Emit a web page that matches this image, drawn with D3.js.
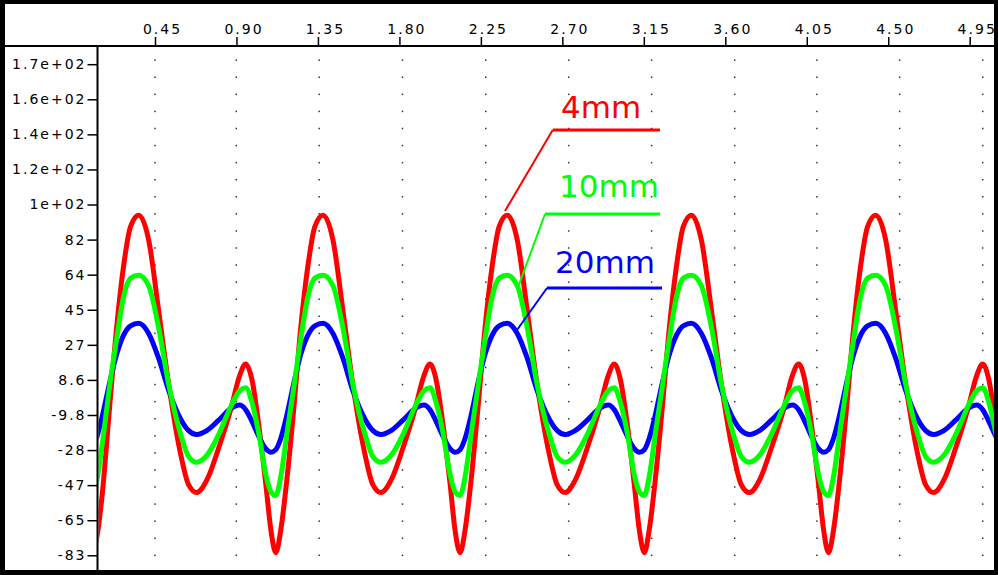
<!DOCTYPE html>
<html>
<head>
<meta charset="utf-8">
<script src="https://cdn.jsdelivr.net/npm/d3@7/dist/d3.min.js"></script>
<style>
  html, body { margin: 0; padding: 0; background: #fff; }
  svg { display: block; }
  .tick text { font-family: "DejaVu Sans", sans-serif; font-size: 14px; letter-spacing: 2px; fill: #000; }
  .legend text { font-family: "DejaVu Sans", sans-serif; font-size: 31px; }
</style>
</head>
<body>
<svg id="chart" width="998" height="575"></svg>
<script>
// Sample times (s) shared by the three traces
const time = [
  0.006, 0.044, 0.072, 0.100, 0.127, 0.160, 0.199, 0.238, 0.276, 0.315,
  0.360, 0.415, 0.470, 0.526, 0.592, 0.636, 0.680, 0.736, 0.802, 0.868, 0.918, 0.951, 0.985, 1.023, 1.062, 1.090, 1.117, 1.145, 1.178, 1.217, 1.255, 1.294, 1.333,
  1.378, 1.433, 1.488, 1.543, 1.610, 1.654, 1.698, 1.754, 1.820, 1.886, 1.936, 1.969, 2.002, 2.041, 2.080, 2.107, 2.135, 2.163, 2.196, 2.234, 2.273, 2.312, 2.351,
  2.395, 2.451, 2.506, 2.561, 2.628, 2.672, 2.716, 2.771, 2.838, 2.904, 2.954, 2.987, 3.020, 3.059, 3.097, 3.125, 3.153, 3.180, 3.213, 3.252, 3.291, 3.330, 3.368,
  3.413, 3.468, 3.524, 3.579, 3.645, 3.689, 3.734, 3.789, 3.855, 3.922, 3.971, 4.005, 4.038, 4.076, 4.115, 4.143, 4.170, 4.198, 4.231, 4.270, 4.309, 4.347, 4.386,
  4.431, 4.486, 4.541, 4.597, 4.663, 4.707, 4.751, 4.807, 4.873, 4.939, 4.989, 5.022, 5.055, 5.094, 5.133
];

// Trace at 4 mm
const mm4 = [
  -15, -46, -70, -82, -75, -50, -6, 36, 68, 89,
  95, 82, 45, 6, -30.5, -46.5, -50.5, -44, -27, -7, 11, 17, 9, -15, -46, -70, -82, -70, -44, -6, 36, 68, 89,
  95, 82, 45, 6, -30.5, -46.5, -50.5, -44, -27, -7, 11, 17, 9, -15, -46, -70, -82, -70, -44, -6, 36, 68, 89,
  95, 82, 45, 6, -30.5, -46.5, -50.5, -44, -27, -7, 11, 17, 9, -15, -46, -70, -82, -70, -44, -6, 36, 68, 89,
  95, 82, 45, 6, -30.5, -46.5, -50.5, -44, -27, -7, 11, 17, 9, -15, -46, -70, -82, -70, -44, -6, 36, 68, 89,
  95, 82, 45, 6, -30.5, -46.5, -50.5, -44, -27, -7, 11, 17, 9, -15, -46
];

// Trace at 10 mm
const mm10 = [
  -19.4, -41, -50, -52, -45, -24, 5, 30, 52, 62,
  63.5, 58, 36, 6, -20, -31.7, -34.6, -31, -20, -5.5, 3, 4.5, -3, -19.4, -41, -50, -52, -42, -20, 5, 30, 52, 62,
  63.5, 58, 36, 6, -20, -31.7, -34.6, -31, -20, -5.5, 3, 4.5, -3, -19.4, -41, -50, -52, -42, -20, 5, 30, 52, 62,
  63.5, 58, 36, 6, -20, -31.7, -34.6, -31, -20, -5.5, 3, 4.5, -3, -19.4, -41, -50, -52, -42, -20, 5, 30, 52, 62,
  63.5, 58, 36, 6, -20, -31.7, -34.6, -31, -20, -5.5, 3, 4.5, -3, -19.4, -41, -50, -52, -42, -20, 5, 30, 52, 62,
  63.5, 58, 36, 6, -20, -31.7, -34.6, -31, -20, -5.5, 3, 4.5, -3, -19.4, -41
];

// Trace at 20 mm
const mm20 = [
  -21, -27.5, -29.4, -28, -22, -10, 7, 22, 32, 37,
  38.3, 33, 20, 3, -12, -18, -20, -18, -12.5, -6.5, -4.6, -7, -13, -21, -27.5, -29.4, -28, -22, -10, 7, 22, 32, 37,
  38.3, 33, 20, 3, -12, -18, -20, -18, -12.5, -6.5, -4.6, -7, -13, -21, -27.5, -29.4, -28, -22, -10, 7, 22, 32, 37,
  38.3, 33, 20, 3, -12, -18, -20, -18, -12.5, -6.5, -4.6, -7, -13, -21, -27.5, -29.4, -28, -22, -10, 7, 22, 32, 37,
  38.3, 33, 20, 3, -12, -18, -20, -18, -12.5, -6.5, -4.6, -7, -13, -21, -27.5, -29.4, -28, -22, -10, 7, 22, 32, 37,
  38.3, 33, 20, 3, -12, -18, -20, -18, -12.5, -6.5, -4.6, -7, -13, -21, -27.5
];

const seriesNames = ["4mm", "10mm", "20mm"];
const seriesColors = ["#ff0000", "#00ff00", "#0000ff"];

// Axis ticks
const xTicks = [0.45, 0.90, 1.35, 1.80, 2.25, 2.70, 3.15, 3.60, 4.05, 4.50, 4.95];
const xTickLabels = ["0.45", "0.90", "1.35", "1.80", "2.25", "2.70", "3.15", "3.60", "4.05", "4.50", "4.95"];
const yTicks = [-83.4, -65.0, -46.6, -28.2, -9.8, 8.6, 27.0, 45.4, 63.8, 82.2, 100.6, 119.0, 137.4, 155.8, 174.2];
const yTickLabels = ["-83", "-65", "-47", "-28", "-9.8", "8.6", "27", "45", "64", "82", "1e+02", "1.2e+02", "1.4e+02", "1.6e+02", "1.7e+02"];

// Dotted grid columns
const gridCols = [0.450, 0.899, 1.357, 1.817, 2.277, 2.735, 3.193, 3.652, 4.106, 4.563, 5.022];

const W = 998, H = 575;
const plot = { left: 97.5, top: 46, right: 994, bottom: 570 };

const svg = d3.select("#chart");

// Window frame
svg.append("rect").attr("x", 0).attr("y", 0).attr("width", W).attr("height", H).attr("fill", "#000");
svg.append("rect").attr("x", 5).attr("y", 4).attr("width", 989).attr("height", 566).attr("fill", "#fff");

const x = d3.scaleLinear().domain([0.45, 4.95]).range([155, 969.7]);
const y = d3.scaleLinear().domain([-83.4, 174.2]).range([555.3, 64.2]);

svg.append("defs").append("clipPath").attr("id", "plotClip")
  .append("rect")
  .attr("x", plot.left + 1).attr("y", plot.top + 1)
  .attr("width", plot.right - plot.left - 1).attr("height", plot.bottom - plot.top - 1);

// Dotted grid
const gridRows = d3.range(30).map(i => -83.4 + i * 8.955);
const dots = [];
gridCols.forEach(c => gridRows.forEach(r => dots.push([c, r])));
svg.append("g").attr("clip-path", "url(#plotClip)")
  .selectAll("rect").data(dots).join("rect")
  .attr("x", d => x(d[0]) - 0.75).attr("y", d => y(d[1]) - 0.75)
  .attr("width", 1.5).attr("height", 1.5).attr("fill", "#333");

// Traces
const traces = [mm4, mm10, mm20];
const line = d3.line().x(d => x(d[0])).y(d => y(d[1])).curve(d3.curveMonotoneX);
const traceG = svg.append("g").attr("clip-path", "url(#plotClip)");
[0, 2, 1].forEach(i => {
  traceG.append("path")
    .datum(time.map((t, j) => [t, traces[i][j]]))
    .attr("d", line)
    .attr("fill", "none")
    .attr("stroke", seriesColors[i])
    .attr("stroke-width", 5)
    .attr("stroke-linejoin", "round");
});

// Top axis
const xAxis = d3.axisTop(x).tickValues(xTicks)
  .tickFormat((d, i) => xTickLabels[i]).tickSize(9).tickPadding(3);
const gx = svg.append("g").attr("transform", `translate(0,${plot.top})`).call(xAxis);
gx.select(".domain").remove();
gx.selectAll(".tick line").attr("stroke", "#000").attr("stroke-width", 1.5);
gx.selectAll(".tick text").attr("dx", 7);

// Left axis
const yAxis = d3.axisLeft(y).tickValues(yTicks)
  .tickFormat((d, i) => yTickLabels[i]).tickSize(10).tickPadding(1);
const gy = svg.append("g").attr("transform", `translate(${plot.left},0)`).call(yAxis);
gy.select(".domain").remove();
gy.selectAll(".tick line").attr("stroke", "#000").attr("stroke-width", 1.5);

// Axis lines
svg.append("line").attr("x1", 5).attr("x2", plot.right).attr("y1", plot.top).attr("y2", plot.top)
  .attr("stroke", "#000").attr("stroke-width", 2);
svg.append("line").attr("x1", plot.left).attr("x2", plot.left).attr("y1", plot.top).attr("y2", plot.bottom)
  .attr("stroke", "#000").attr("stroke-width", 2);

// Labels with leader lines
const legend = [
  { text: "4mm", tx: 561, ty: 118, lx1: 552.7, lx2: 660, ly: 130, px: 505, py: 211 },
  { text: "10mm", tx: 559, ty: 196.5, lx1: 545, lx2: 660, ly: 214, px: 517, py: 290 },
  { text: "20mm", tx: 555, ty: 273, lx1: 547, lx2: 662, ly: 288, px: 517, py: 330 }
];
const lg = svg.append("g").attr("class", "legend");
legend.forEach((d, i) => {
  lg.append("text").attr("x", d.tx).attr("y", d.ty).attr("fill", seriesColors[i]).text(seriesNames[i]);
  lg.append("line").attr("x1", d.lx1).attr("x2", d.lx2).attr("y1", d.ly).attr("y2", d.ly)
    .attr("stroke", seriesColors[i]).attr("stroke-width", 3);
  lg.append("line").attr("x1", d.lx1).attr("y1", d.ly).attr("x2", d.px).attr("y2", d.py)
    .attr("stroke", seriesColors[i]).attr("stroke-width", 2);
});
</script>
</body>
</html>
